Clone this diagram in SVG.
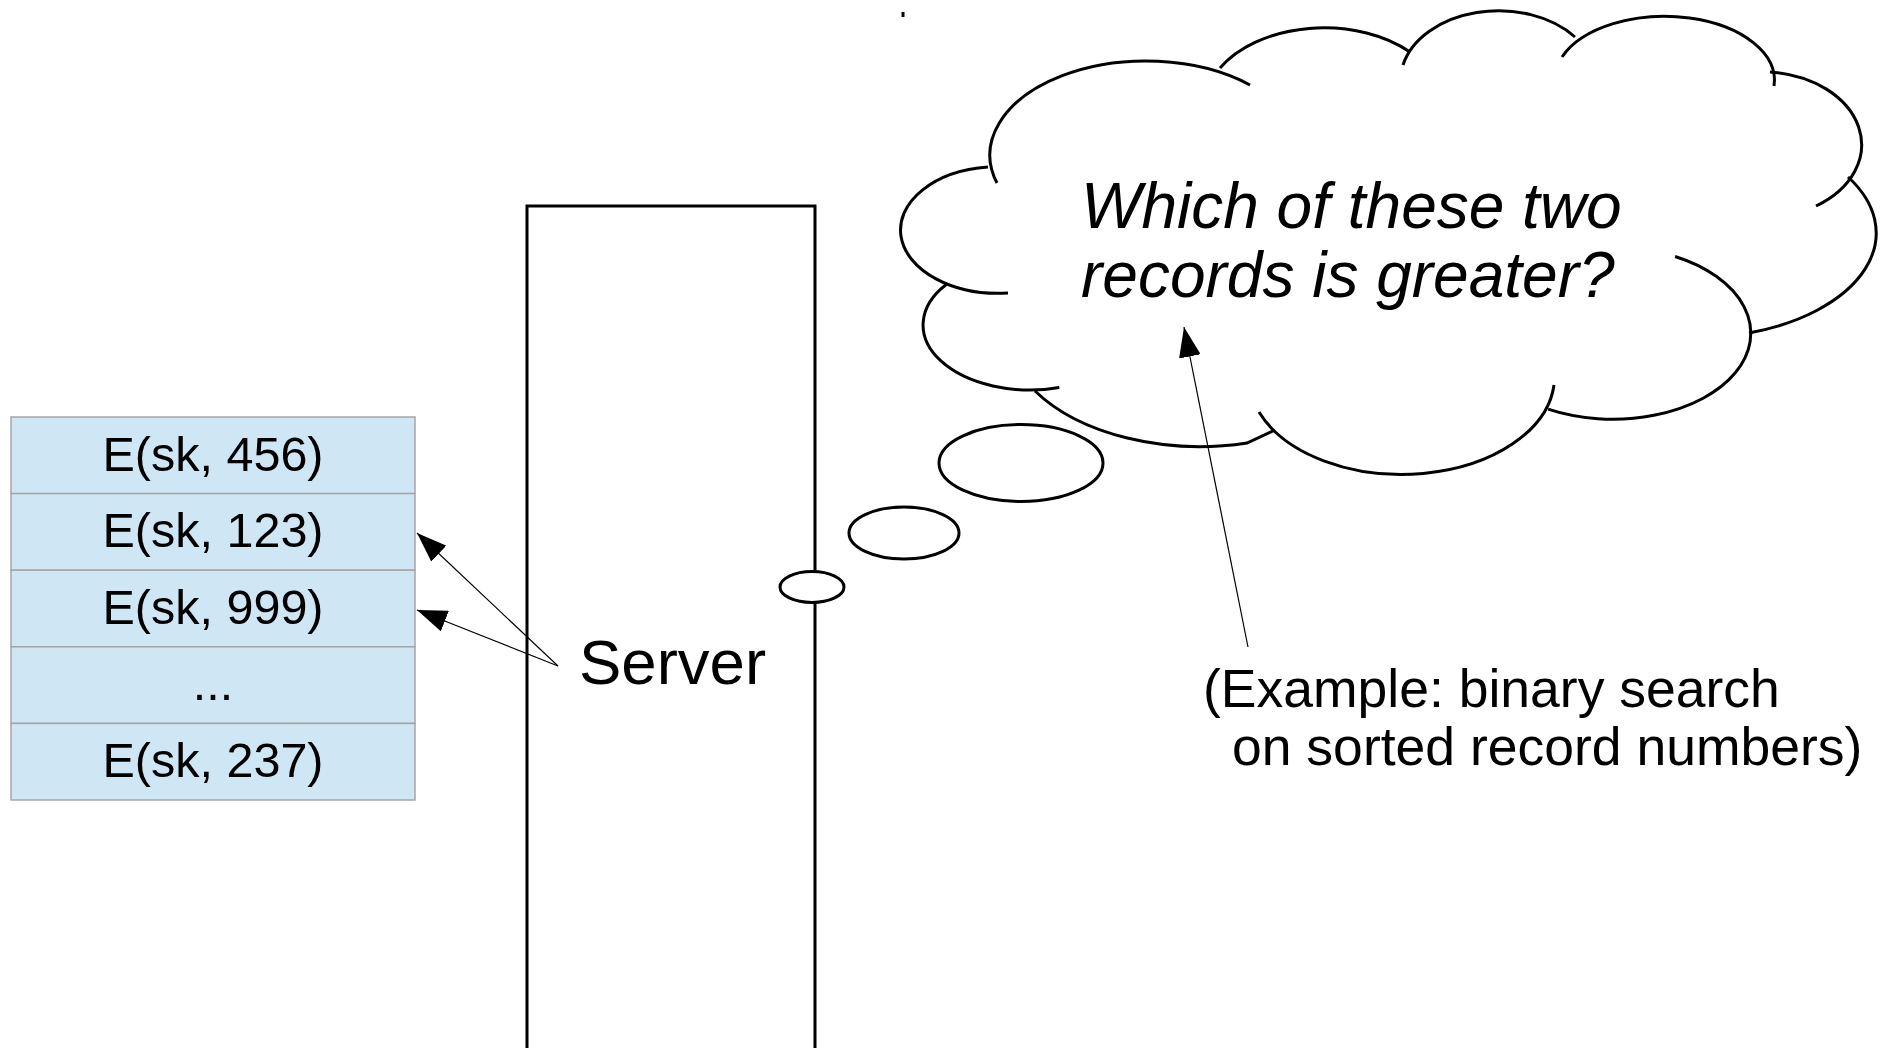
<svg xmlns="http://www.w3.org/2000/svg" width="1880" height="1048" viewBox="0 0 1880 1048">
  <style>
    .row rect { fill: #cfe6f4; stroke: #a6a6a6; stroke-width: 1.5; }
    .row text { font-family: "Liberation Sans", Arial, sans-serif; font-size: 48.5px; fill: #000; text-anchor: middle; }
    .outline { fill: none; stroke: #000; stroke-width: 3; stroke-linecap: butt; }
    .bubble { fill: #fff; stroke: #000; stroke-width: 3; }
    .label { font-family: "Liberation Sans", Arial, sans-serif; fill: #000; }
    .thought { font-family: "Liberation Sans", Arial, sans-serif; font-style: italic; font-size: 64px; fill: #000; }
    .conn { fill: none; stroke: #000; stroke-width: 1.2; marker-end: url(#head); }
  </style>
  <defs>
    <marker id="head" markerUnits="userSpaceOnUse" viewBox="0 0 30 22" refX="30" refY="11" markerWidth="30" markerHeight="22" orient="auto">
      <path d="M0,0 L30,11 L0,22 z" fill="#000"/>
    </marker>
  </defs>

  <rect width="1880" height="1048" fill="#fff"/>

  <!-- encrypted record column -->
  <g id="rec-456" class="row">
    <rect x="11" y="417" width="404" height="76.6"/>
    <text x="213" y="470.5">E(sk, 456)</text>
  </g>
  <g id="rec-123" class="row">
    <rect x="11" y="493.6" width="404" height="76.6"/>
    <text x="213" y="547">E(sk, 123)</text>
  </g>
  <g id="rec-999" class="row">
    <rect x="11" y="570.2" width="404" height="76.6"/>
    <text x="213" y="623.5">E(sk, 999)</text>
  </g>
  <g id="rec-more" class="row">
    <rect x="11" y="646.8" width="404" height="76.6"/>
    <text x="213" y="699.5">...</text>
  </g>
  <g id="rec-237" class="row">
    <rect x="11" y="723.4" width="404" height="76.6"/>
    <text x="213" y="776.5">E(sk, 237)</text>
  </g>

  <!-- server box, open at the bottom edge -->
  <g id="server">
    <path class="outline" d="M527,1060 V206 H815 V1060"/>
    <text class="label" x="579" y="684" font-size="63.5">Server</text>
  </g>

  <!-- thought bubbles rising from the server -->
  <g id="bubbles">
    <ellipse class="bubble" cx="812" cy="587" rx="32" ry="15.5"/>
    <ellipse class="bubble" cx="904" cy="533" rx="55" ry="26"/>
    <ellipse class="bubble" cx="1021" cy="463" rx="82" ry="38.5"/>
  </g>

  <!-- cloud made of overlapping arc lobes -->
  <g id="cloud">
    <path class="outline" d="M903,12 V17" stroke-width="1"/>
    <path class="outline" d="M1250,85 A156,94 0 0 0 997,183"/>
    <path class="outline" d="M988,167 A97,63 0 0 0 1008,293"/>
    <path class="outline" d="M946.6,284.3 A107,65 0 0 0 1059.3,387.5"/>
    <path class="outline" d="M1035,391 A195,120 0 0 0 1247,443 L1275,430"/>
    <path class="outline" d="M1259,412 A153,98 0 0 0 1554,385"/>
    <path class="outline" d="M1548.1,409.2 A138,86 0 1 0 1675.1,256.5"/>
    <path class="outline" d="M1749,333 A183,105 0 0 0 1848,177"/>
    <path class="outline" d="M1816,206 A100,73 0 0 0 1770,72"/>
    <path class="outline" d="M1774,86 A110,64 0 0 0 1562,57"/>
    <path class="outline" d="M1575,37 A98,70 0 0 0 1403,65"/>
    <path class="outline" d="M1410,52 A120,80 0 0 0 1220,68"/>
    <text class="thought" x="1081" y="228">Which of these two</text>
    <text class="thought" x="1081" y="297">records is greater?</text>
  </g>

  <!-- note under the cloud -->
  <g id="note">
    <text class="label" x="1203" y="707" font-size="53.5">(Example: binary search</text>
    <text class="label" x="1232" y="765" font-size="53.5">on sorted record numbers)</text>
  </g>

  <g id="connectors">
    <path class="conn" d="M558,666 L417,533"/>
    <path class="conn" d="M558,666 L417,610"/>
    <path class="conn" d="M1248,647 L1184,327"/>
  </g>
</svg>
